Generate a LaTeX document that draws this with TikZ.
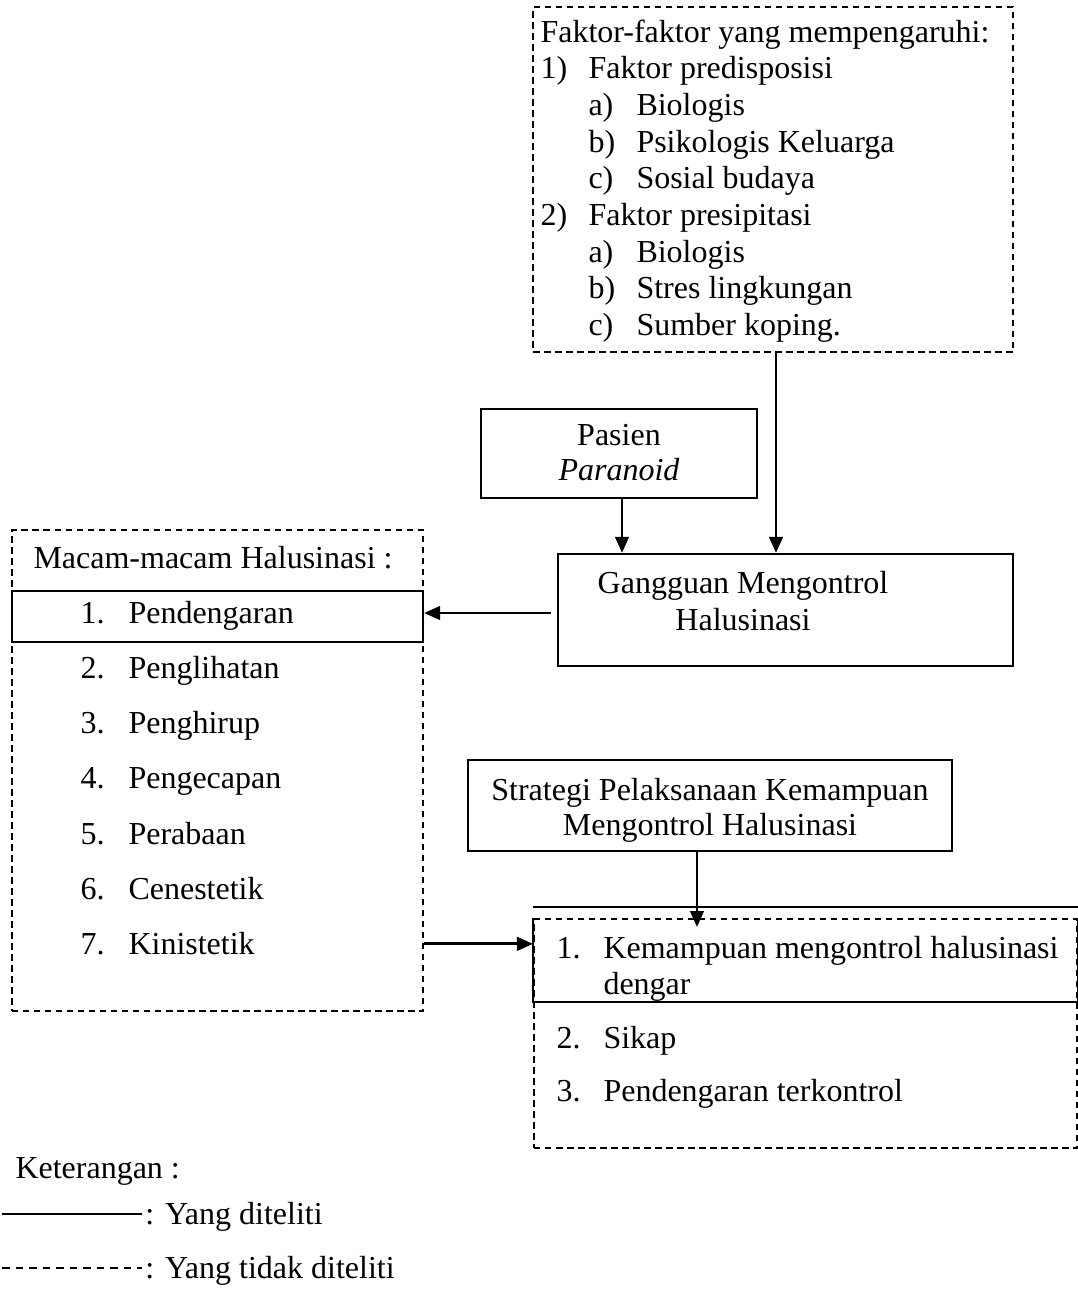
\documentclass[tikz,border=0pt]{standalone}
\usepackage{fontspec}
\setmainfont{Liberation Serif}
\usetikzlibrary{arrows.meta}

\begin{document}
\begin{tikzpicture}[x=0.4pt,y=-0.4pt,
  every node/.style={font=\fontsize{12.8}{14.7}\selectfont},
  box/.style={draw,line width=0.9pt,inner sep=0pt},
  dashbox/.style={draw,line width=0.8pt,dash pattern=on 2.6pt off 1.8pt,inner sep=0pt},
  txt/.style={anchor=base west,inner sep=0pt},
  ctxt/.style={anchor=base,inner sep=0pt},
  arr/.style={-{Triangle[length=6.4pt,width=5.4pt]},line width=1.1pt}]
\useasboundingbox (0,0) rectangle (1078,1295);

% faktor yang mempengaruhi
\node[dashbox,minimum width=192pt,minimum height=138pt] (faktor) at (773,179.5) {};
\node[txt] (fjudul) at (540,42) {Faktor-faktor yang mempengaruhi:};
\node[txt] (f1) at (540,78.7) {1)};
\node[txt] (f1t) at (588,78.7) {Faktor predisposisi};
\node[txt] (f1a) at (588,115.4) {a)};
\node[txt] (f1at) at (636,115.4) {Biologis};
\node[txt] (f1b) at (588,152) {b)};
\node[txt] (f1bt) at (636,152) {Psikologis Keluarga};
\node[txt] (f1c) at (588,188.8) {c)};
\node[txt] (f1ct) at (636,188.8) {Sosial budaya};
\node[txt] (f2) at (540,225.5) {2)};
\node[txt] (f2t) at (588,225.5) {Faktor presipitasi};
\node[txt] (f2a) at (588,262.2) {a)};
\node[txt] (f2at) at (636,262.2) {Biologis};
\node[txt] (f2b) at (588,298.9) {b)};
\node[txt] (f2bt) at (636,298.9) {Stres lingkungan};
\node[txt] (f2c) at (588,335.6) {c)};
\node[txt] (f2ct) at (636,335.6) {Sumber koping.};

% pasien dan gangguan
\node[box,minimum width=110.4pt,minimum height=35.6pt] (pasien) at (619,453.5) {};
\node[ctxt] (pasien1) at (619,445) {Pasien};
\node[ctxt] (pasien2) at (619,480) {\textit{Paranoid}};
\node[box,minimum width=182pt,minimum height=44.8pt] (gangguan) at (785.5,610) {};
\node[ctxt] (gangguan1) at (743,593) {Gangguan Mengontrol};
\node[ctxt] (gangguan2) at (743,630) {Halusinasi};

% macam-macam halusinasi
\node[dashbox,minimum width=164.4pt,minimum height=192.4pt] (macam) at (217.5,770.5) {};
\node[box,minimum width=164.4pt,minimum height=20.4pt] (pend) at (217.5,616.5) {};
\node[txt] (mjudul) at (33,568) {Macam-macam Halusinasi :};
\foreach \t [count=\i] in {Pendengaran,Penglihatan,Penghirup,Pengecapan,Perabaan,Cenestetik,Kinistetik}{
  \node[txt] (no\i) at (80,{623+55.3*(\i-1)}) {\i.};
  \node[txt] (jenis\i) at (128,{623+55.3*(\i-1)}) {\t};
}

% strategi dan hasil
\node[box,minimum width=193.6pt,minimum height=36.4pt] (strategi) at (710,805.5) {};
\node[ctxt] (strategi1) at (710,800) {Strategi Pelaksanaan Kemampuan};
\node[ctxt] (strategi2) at (710,835) {Mengontrol Halusinasi};
\node[dashbox,minimum width=217.2pt,minimum height=91.6pt] (hasil) at (805.5,1033.5) {};
\draw[line width=0.8pt] (hasil.north west) -- ++(0,84) -| (hasil.north east);
\draw[line width=1.1pt] ([yshift=4.4pt]hasil.north west) -- ([yshift=4.4pt]hasil.north east);
\node[txt] (h1) at (556,958) {1.};
\node[txt] (h1t) at (603,958) {Kemampuan mengontrol halusinasi};
\node[txt] (h1u) at (603,994) {dengar};
\node[txt] (h2) at (556,1048) {2.};
\node[txt] (h2t) at (603,1048) {Sikap};
\node[txt] (h3) at (556,1101) {3.};
\node[txt] (h3t) at (603,1101) {Pendengaran terkontrol};

% panah
\coordinate (fbawah) at ([xshift=1.2pt]faktor.south);
\coordinate (pbawah) at ([xshift=1.2pt]pasien.south);
\coordinate (gkiri) at ([xshift=-2.4pt,yshift=1.4pt]gangguan.west);
\coordinate (pkanan) at ([yshift=1.4pt]pend.east);
\coordinate (sbawah) at ([xshift=-5.2pt]strategi.south);
\coordinate (sujung) at (sbawah |- hasil.north);
\draw[arr] (fbawah) -- (fbawah |- gangguan.north);
\draw[arr] (pbawah) -- (pbawah |- gangguan.north);
\draw[arr] (gkiri |- pkanan) -- (pkanan);
\draw[arr] (sbawah) -- ([yshift=-3.6pt]sujung);
\draw[arr] (macam.east |- jenis7) -- (hasil.west |- jenis7);

% keterangan
\node[txt] (ket) at (15,1178) {Keterangan :};
\coordinate (ga) at (2,1214);
\coordinate (gb) at (142,1214);
\coordinate (gc) at (2,1268);
\coordinate (gd) at (142,1268);
\draw[line width=0.6pt] (ga) -- (gb);
\draw[line width=0.6pt,dash pattern=on 3pt off 2.4pt] (gc) -- (gd);
\node[txt] (ket1) at (145,1224) {: Yang diteliti};
\node[txt] (ket2) at (145,1278) {: Yang tidak diteliti};
\end{tikzpicture}
\end{document}
